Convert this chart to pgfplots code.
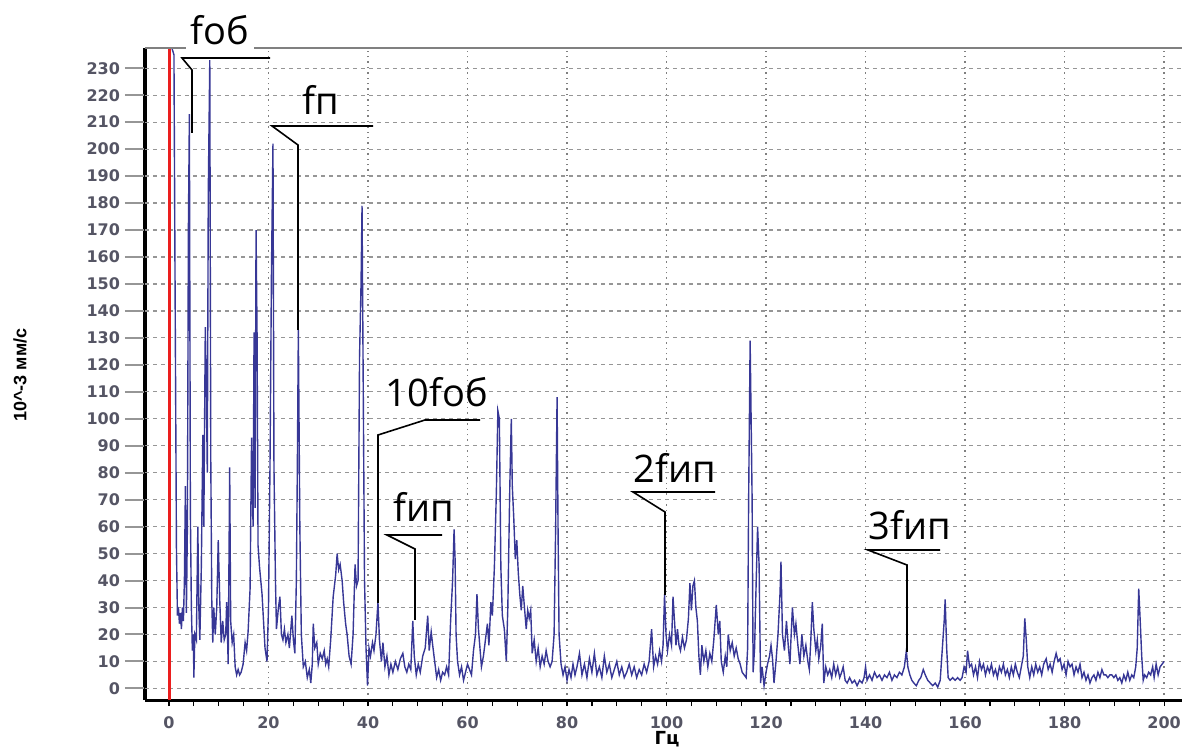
\documentclass[border=0pt]{standalone}
\usepackage{pgfplots}
\pgfplotsset{compat=1.18}
\usepackage{fontspec}
\setmainfont{DejaVu Sans}
\newfontfamily\annfont{Open Sans}
\newfontfamily\lblfont{Liberation Sans}
\definecolor{spec}{RGB}{55,55,150}
\definecolor{ticktxt}{RGB}{85,85,100}
\definecolor{marker}{RGB}{235,30,30}
\definecolor{gridc}{RGB}{150,150,150}
\pgfplotsset{hgrid/.style={gridc, line width=0.6pt, dash pattern=on 2pt off 2pt, forget plot},
             ytk/.style={gridc, line width=1pt, forget plot}}

\begin{document}
\begin{tikzpicture}
\begin{axis}[
  at={(72.5pt,24.5pt)}, anchor=south west,
  scale only axis, width=518.5pt, height=325.85pt,
  xmin=-4.82, xmax=203.6, ymin=-4.3, ymax=237.4,
  axis x line*=bottom, axis y line*=left,
  x axis line style={black, line width=1.5pt, -},
  y axis line style={black, line width=2pt, -},
  xtick={0,20,...,200}, minor x tick num=3,
  ytick={0,10,...,230},
  tick align=outside, major tick length=3pt, minor tick length=3pt,
  xtick style={black, line width=0.6pt},
  ytick style={draw=none},
  minor tick style={black, line width=0.6pt},
  xmajorgrids=true,
  major grid style={gray, line width=0.7pt, dotted},
  tick label style={font=\bfseries\fontsize{8}{9}\selectfont, text=ticktxt},
  /pgf/number format/assume math mode=true,
  yticklabel style={xshift=-6pt},
  xticklabel style={yshift=-2pt},
  clip=false,
]
% horizontal dashed grid
\addplot[hgrid] coordinates {(-4.82,0) (203.6,0)};
\addplot[hgrid] coordinates {(-4.82,10) (203.6,10)};
\addplot[hgrid] coordinates {(-4.82,20) (203.6,20)};
\addplot[hgrid] coordinates {(-4.82,30) (203.6,30)};
\addplot[hgrid] coordinates {(-4.82,40) (203.6,40)};
\addplot[hgrid] coordinates {(-4.82,50) (203.6,50)};
\addplot[hgrid] coordinates {(-4.82,60) (203.6,60)};
\addplot[hgrid] coordinates {(-4.82,70) (203.6,70)};
\addplot[hgrid] coordinates {(-4.82,80) (203.6,80)};
\addplot[hgrid] coordinates {(-4.82,90) (203.6,90)};
\addplot[hgrid] coordinates {(-4.82,100) (203.6,100)};
\addplot[hgrid] coordinates {(-4.82,110) (203.6,110)};
\addplot[hgrid] coordinates {(-4.82,120) (203.6,120)};
\addplot[hgrid] coordinates {(-4.82,130) (203.6,130)};
\addplot[hgrid] coordinates {(-4.82,140) (203.6,140)};
\addplot[hgrid] coordinates {(-4.82,150) (203.6,150)};
\addplot[hgrid] coordinates {(-4.82,160) (203.6,160)};
\addplot[hgrid] coordinates {(-4.82,170) (203.6,170)};
\addplot[hgrid] coordinates {(-4.82,180) (203.6,180)};
\addplot[hgrid] coordinates {(-4.82,190) (203.6,190)};
\addplot[hgrid] coordinates {(-4.82,200) (203.6,200)};
\addplot[hgrid] coordinates {(-4.82,210) (203.6,210)};
\addplot[hgrid] coordinates {(-4.82,220) (203.6,220)};
\addplot[hgrid] coordinates {(-4.82,230) (203.6,230)};
% long y ticks
\addplot[ytk] coordinates {(-8.84,0) (-5.1,0)};
\addplot[ytk] coordinates {(-8.84,10) (-5.1,10)};
\addplot[ytk] coordinates {(-8.84,20) (-5.1,20)};
\addplot[ytk] coordinates {(-8.84,30) (-5.1,30)};
\addplot[ytk] coordinates {(-8.84,40) (-5.1,40)};
\addplot[ytk] coordinates {(-8.84,50) (-5.1,50)};
\addplot[ytk] coordinates {(-8.84,60) (-5.1,60)};
\addplot[ytk] coordinates {(-8.84,70) (-5.1,70)};
\addplot[ytk] coordinates {(-8.84,80) (-5.1,80)};
\addplot[ytk] coordinates {(-8.84,90) (-5.1,90)};
\addplot[ytk] coordinates {(-8.84,100) (-5.1,100)};
\addplot[ytk] coordinates {(-8.84,110) (-5.1,110)};
\addplot[ytk] coordinates {(-8.84,120) (-5.1,120)};
\addplot[ytk] coordinates {(-8.84,130) (-5.1,130)};
\addplot[ytk] coordinates {(-8.84,140) (-5.1,140)};
\addplot[ytk] coordinates {(-8.84,150) (-5.1,150)};
\addplot[ytk] coordinates {(-8.84,160) (-5.1,160)};
\addplot[ytk] coordinates {(-8.84,170) (-5.1,170)};
\addplot[ytk] coordinates {(-8.84,180) (-5.1,180)};
\addplot[ytk] coordinates {(-8.84,190) (-5.1,190)};
\addplot[ytk] coordinates {(-8.84,200) (-5.1,200)};
\addplot[ytk] coordinates {(-8.84,210) (-5.1,210)};
\addplot[ytk] coordinates {(-8.84,220) (-5.1,220)};
\addplot[ytk] coordinates {(-8.84,230) (-5.1,230)};
% marker line
\addplot[marker, line width=1.5pt] coordinates {(0.2,-4.3) (0.2,237.4)};
% spectrum
\addplot[spec, line width=0.7pt] coordinates {
(0.6,237.4) (1.0,235) (1.2,158) (1.5,52) (1.7,27) (1.9,30) (2.1,24) (2.3,28) (2.5,22) (2.7,30)
(2.9,25) (3.1,40) (3.3,75) (3.5,28) (3.7,60) (3.9,170) (4.1,213) (4.3,65) (4.5,30) (4.7,14)
(4.9,20) (5.0,4) (5.2,20) (5.5,18) (5.8,60) (6.0,30) (6.2,18) (6.5,45) (6.8,94) (7.0,60)
(7.3,134) (7.5,113) (7.7,80) (7.9,184) (8.2,233) (8.4,85) (8.6,33) (8.8,17) (9.0,30) (9.3,20)
(9.6,30) (9.9,55) (10.2,33) (10.5,17) (10.8,25) (11.1,18) (11.4,20) (11.6,32) (11.9,9) (12.2,82)
(12.4,25) (12.7,17) (13.0,20) (13.3,8) (13.6,5) (13.9,7) (14.2,5) (14.5,6) (14.9,9) (15.3,17)
(15.6,14) (15.9,21) (16.3,37) (16.6,93) (16.9,60) (17.1,132) (17.3,67) (17.5,170) (17.7,132) (17.9,53)
(18.2,45) (18.7,35) (19.0,25) (19.3,15) (19.7,10) (20.0,30) (20.3,82) (20.6,155) (20.9,202) (21.1,82)
(21.4,40) (21.6,22) (22.0,30) (22.3,34) (22.6,20) (22.9,18) (23.2,22) (23.5,17) (23.9,20) (24.2,15)
(24.7,27) (25.0,18) (25.3,13) (25.6,40) (25.8,82) (26.0,133) (26.3,60) (26.6,20) (27.0,8) (27.4,10)
(27.8,4) (28.2,7) (28.5,2) (28.8,9) (29.0,24) (29.3,15) (29.7,17) (30.0,9) (30.4,13) (30.8,11)
(31.2,14) (31.5,9) (31.8,11) (32.1,8) (32.5,18) (33.0,34) (33.5,42) (33.8,50) (34.1,44) (34.4,46)
(34.8,40) (35.1,32) (35.5,24) (35.8,20) (36.2,12) (36.6,9) (37.0,20) (37.4,46) (37.7,38) (38.0,40)
(38.3,123) (38.6,150) (38.8,179) (39.0,123) (39.3,40) (39.6,15) (39.9,1) (40.2,15) (40.5,12) (40.9,17)
(41.2,14) (41.6,20) (42.0,32) (42.3,18) (42.7,10) (43.0,17) (43.4,8) (43.8,12) (44.2,5) (44.6,9)
(45.0,6) (45.5,10) (46.0,7) (46.5,11) (47.0,13) (47.4,8) (47.8,6) (48.2,9) (48.6,7) (49.0,25)
(49.3,12) (49.7,5) (50.1,9) (50.5,6) (51.0,12) (51.5,15) (52.0,27) (52.3,14) (52.7,21) (53.0,16)
(53.4,10) (53.8,4) (54.2,7) (54.6,3) (55.0,6) (55.4,5) (55.8,8) (56.2,5) (56.6,25) (57.0,40)
(57.3,59) (57.5,48) (57.7,20) (58.0,10) (58.4,5) (58.8,8) (59.2,3) (59.6,6) (60.0,9) (60.4,7)
(60.8,5) (61.2,14) (61.6,20) (61.9,35) (62.2,22) (62.5,15) (62.8,8) (63.2,12) (63.6,18) (64.0,24)
(64.3,16) (64.7,32) (65.0,27) (65.4,45) (65.8,73) (66.1,103) (66.4,100) (66.7,45) (67.0,27) (67.4,22)
(67.8,10) (68.1,30) (68.5,75) (68.8,100) (69.0,75) (69.3,63) (69.6,48) (69.9,55) (70.2,43) (70.5,35)
(70.8,29) (71.1,38) (71.4,31) (71.8,22) (72.1,29) (72.4,26) (72.7,29) (73.0,13) (73.4,18) (73.8,10)
(74.2,15) (74.6,8) (75.0,12) (75.4,9) (75.8,14) (76.2,10) (76.6,8) (77.0,10) (77.4,20) (77.7,58)
(78.0,108) (78.2,58) (78.4,20) (78.8,9) (79.2,5) (79.6,8) (80.0,3) (80.4,7) (80.8,4) (81.2,9)
(81.6,5) (82.0,8) (82.5,13) (83.0,5) (83.5,9) (84.0,4) (84.5,11) (85.0,6) (85.5,13) (86.0,5)
(86.5,8) (87.0,4) (87.5,12) (88.0,6) (88.5,9) (89.0,4) (89.5,7) (90.0,10) (90.5,5) (91.0,8)
(91.5,4) (92.0,6) (92.5,9) (93.0,5) (93.5,8) (94.0,4) (94.5,7) (95.0,5) (95.5,9) (96.0,6)
(96.5,10) (97.0,22) (97.4,8) (97.8,12) (98.2,9) (98.6,14) (99.0,10) (99.3,16) (99.6,35) (99.9,20)
(100.2,14) (100.6,20) (101.0,16) (101.3,34) (101.6,25) (101.9,16) (102.2,22) (102.5,16) (102.8,14) (103.2,19)
(103.6,15) (104.0,18) (104.4,26) (104.7,39) (105.0,29) (105.3,38) (105.6,40) (105.9,30) (106.2,25) (106.5,12)
(106.8,5) (107.1,16) (107.5,10) (107.9,14) (108.3,8) (108.7,13) (109.1,10) (109.5,18) (110.0,31) (110.4,20)
(110.7,25) (111.0,10) (111.4,6) (111.8,12) (112.1,8) (112.4,20) (112.8,14) (113.2,17) (113.6,12) (114.0,15)
(114.4,11) (114.8,9) (115.2,6) (115.6,5) (116.0,4) (116.3,15) (116.5,70) (116.8,129) (117.0,100) (117.2,70)
(117.4,6) (117.7,15) (117.9,31) (118.3,60) (118.6,46) (118.9,2) (119.2,8) (119.6,1) (120.0,6) (120.3,9)
(120.7,12) (121.0,16) (121.3,11) (121.6,2) (122.0,10) (122.4,20) (122.8,35) (123.0,47) (123.3,20) (123.7,14)
(124.1,25) (124.5,15) (124.8,9) (125.0,18) (125.3,30) (125.7,20) (126.0,24) (126.4,16) (126.8,9) (127.2,20)
(127.6,12) (128.0,16) (128.4,10) (128.7,7) (129.0,18) (129.3,32) (129.6,22) (130.0,14) (130.3,18) (130.6,11)
(131.0,16) (131.3,24) (131.6,2) (132.0,8) (132.4,5) (132.8,7) (133.2,4) (133.6,9) (134.0,5) (134.4,8)
(134.8,4) (135.2,6) (135.5,8) (135.9,3) (136.3,2) (136.8,4) (137.3,2) (137.8,3) (138.3,1) (138.8,3)
(139.3,2) (139.7,4) (140.0,8) (140.3,3) (140.8,5) (141.3,3) (141.8,6) (142.3,4) (142.8,5) (143.3,3)
(143.8,5) (144.3,4) (144.8,6) (145.3,3) (145.8,5) (146.3,4) (146.8,6) (147.3,5) (147.8,8) (148.2,14)
(148.5,8) (148.9,5) (149.3,3) (149.7,2) (150.2,1) (150.7,3) (151.1,4) (151.6,7) (152.0,5) (152.5,3)
(153.0,2) (153.5,1) (154.0,2) (154.5,0.5) (155.0,3) (155.4,14) (155.8,25) (156.0,33) (156.3,15) (156.6,4)
(157.0,3) (157.5,4) (158.0,3) (158.5,4) (159.0,3) (159.4,4) (159.8,8) (160.2,6) (160.5,14) (160.9,8)
(161.3,9) (161.7,5) (162.1,8) (162.5,4) (162.9,10) (163.3,7) (163.7,9) (164.1,5) (164.5,8) (164.9,6)
(165.3,9) (165.7,5) (166.1,7) (166.5,4) (166.9,8) (167.3,6) (167.7,9) (168.1,5) (168.5,7) (168.9,4)
(169.3,8) (169.7,5) (170.1,9) (170.5,6) (170.9,4) (171.3,8) (171.7,12) (172.0,26) (172.3,18) (172.6,8)
(173.0,4) (173.4,8) (173.8,5) (174.2,9) (174.6,6) (175.0,8) (175.4,5) (175.8,9) (176.3,11) (176.7,7)
(177.1,9) (177.5,6) (177.9,10) (178.3,13) (178.7,10) (179.1,11) (179.5,7) (179.9,9) (180.3,5) (180.7,10)
(181.1,8) (181.5,9) (181.9,5) (182.3,8) (182.7,6) (183.1,9) (183.5,4) (183.9,6) (184.3,3) (184.7,5)
(185.1,2) (185.5,4) (185.9,5) (186.3,3) (186.7,6) (187.1,4) (187.5,7) (187.9,5) (188.3,5) (188.7,4)
(189.1,5) (189.5,5) (189.9,4) (190.3,5) (190.7,3) (191.1,4) (191.5,2) (191.9,5) (192.3,3) (192.7,6)
(193.1,3) (193.5,5) (193.9,4) (194.3,8) (194.6,15) (194.9,37) (195.2,25) (195.5,12) (195.8,3) (196.1,5)
(196.5,4) (196.9,6) (197.3,5) (197.7,8) (198.0,4) (198.4,9) (198.8,5) (199.2,8) (199.6,9) (200.0,10)
};
% top frame line
\draw[gray, line width=1pt] (rel axis cs:0,1) -- (rel axis cs:1,1);
\end{axis}

% leader lines and labels, pixel units of the reference
\begin{scope}[x=0.5pt, y=-0.5pt, yshift=374.5pt, line width=0.8pt]
\draw (270,58) -- (182,58) -- (192,70) -- (192,133);
\draw (373,126) -- (272,126) -- (298,145) -- (298,330);
\draw (480,420) -- (425,420) -- (378,435) -- (378,603);
\draw (442,535) -- (387,535) -- (415,549) -- (415,620);
\draw (715,492) -- (633,492) -- (665,512) -- (665,595);
\draw (940,550) -- (868,550) -- (907,565) -- (907,652);
\begin{scope}[every node/.style={font=\annfont\fontsize{19}{22}\selectfont, anchor=base west}]
\node[fill=white, inner sep=2.5pt] at (185,45) {fоб};
\node[inner sep=0pt] at (302,115) {fп};
\node[inner sep=0pt] at (385,407) {10fоб};
\node[inner sep=0pt] at (393,522) {fип};
\node[inner sep=0pt] at (633,483) {2fип};
\node[inner sep=0pt] at (868,540) {3fип};
\end{scope}
\node[rotate=90, font=\lblfont\bfseries\fontsize{9}{10}\selectfont] at (20,375) {10\textasciicircum-3 мм/с};
\node[anchor=base, font=\bfseries\fontsize{9}{10}\selectfont] at (667,745) {Гц};
\end{scope}
\pgfresetboundingbox
\useasboundingbox (0,0) rectangle (591pt,374.5pt);
\end{tikzpicture}
\end{document}
